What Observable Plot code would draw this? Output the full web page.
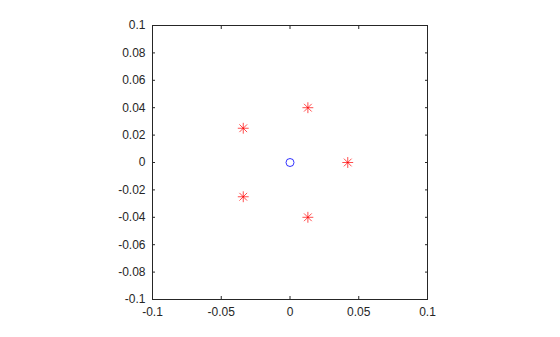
<!DOCTYPE html>
<html>
<head>
<meta charset="utf-8">
<script src="https://cdn.jsdelivr.net/npm/d3@7"></script>
<script src="https://cdn.jsdelivr.net/npm/@observablehq/plot@0.6"></script>
<style>
  html, body { margin: 0; padding: 0; background: #fff; }
  #chart svg { display: block; }
</style>
</head>
<body>
<div id="chart"></div>
<script>
// Zeros (blue circle) and poles (red asterisks)
const zeroX = [0];
const zeroY = [0];
const poleX = [0.042, 0.013, -0.034, -0.034, 0.013];
const poleY = [0, 0.040, 0.025, -0.025, -0.040];
const xTicks = [-0.1, -0.05, 0, 0.05, 0.1];
const yTicks = [-0.1, -0.08, -0.06, -0.04, -0.02, 0, 0.02, 0.04, 0.06, 0.08, 0.1];

const zeros = zeroX.map((x, i) => ({x, y: zeroY[i]}));
const poles = poleX.map((x, i) => ({x, y: poleY[i]}));
const fmt = d => String(d);
const blank = () => "";

const chart = Plot.plot({
  width: 560,
  height: 337,
  marginLeft: 152,
  marginRight: 133,
  marginTop: 25,
  marginBottom: 38,
  style: {fontFamily: "'Liberation Sans', Arial, sans-serif", fontSize: "12px", color: "#262626", background: "#fff"},
  x: {domain: [-0.1, 0.1], label: null},
  y: {domain: [-0.1, 0.1], label: null},
  marks: [
    Plot.frame({stroke: "#262626", strokeWidth: 1}),
    Plot.axisX(xTicks, {anchor: "bottom", tickSize: -3, tickPadding: 11, tickFormat: fmt, stroke: "#262626", fill: "#262626"}),
    Plot.axisX(xTicks, {anchor: "top", tickSize: -3, tickFormat: blank, stroke: "#262626"}),
    Plot.axisY(yTicks, {anchor: "left", tickSize: -3, tickPadding: 10, tickFormat: fmt, stroke: "#262626", fill: "#262626"}),
    Plot.axisY(yTicks, {anchor: "right", tickSize: -3, tickFormat: blank, stroke: "#262626"}),
    Plot.dot(zeros, {x: "x", y: "y", r: 4, stroke: "#0000ff", strokeWidth: 0.8}),
    Plot.dot(poles, {x: "x", y: "y", r: 3.6, symbol: "plus", stroke: "#ff0000", strokeWidth: 0.7}),
    Plot.dot(poles, {x: "x", y: "y", r: 3.6, symbol: "times", stroke: "#ff0000", strokeWidth: 0.7})
  ]
});
document.getElementById("chart").appendChild(chart);
</script>
</body>
</html>
